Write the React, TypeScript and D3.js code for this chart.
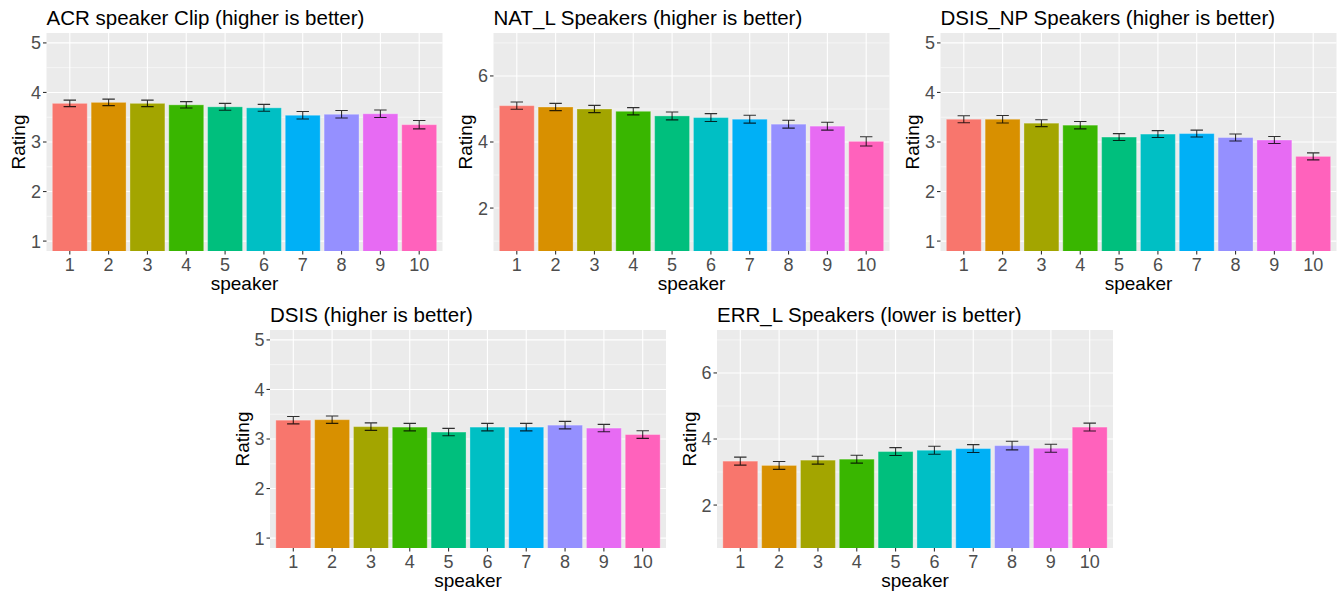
import * as d3 from "d3";
import { useEffect, useRef } from "react";

const speakers = ["1", "2", "3", "4", "5", "6", "7", "8", "9", "10"];
const speakerColors = [
  "#F8766D", "#D89000", "#A3A500", "#39B600", "#00BF7D",
  "#00BFC4", "#00B0F6", "#9590FF", "#E76BF3", "#FF62BC",
];

const acrMeans = [3.78, 3.80, 3.78, 3.75, 3.71, 3.69, 3.54, 3.56, 3.57, 3.35];
const acrErrors = [0.065, 0.065, 0.065, 0.065, 0.07, 0.07, 0.075, 0.075, 0.075, 0.085];

const natMeans = [5.10, 5.06, 5.0, 4.93, 4.79, 4.74, 4.69, 4.54, 4.48, 4.02];
const natErrors = [0.11, 0.11, 0.11, 0.11, 0.12, 0.12, 0.12, 0.12, 0.12, 0.14];

const dsisNpMeans = [3.46, 3.46, 3.38, 3.34, 3.10, 3.16, 3.17, 3.09, 3.04, 2.71];
const dsisNpErrors = [0.07, 0.075, 0.07, 0.075, 0.07, 0.07, 0.07, 0.07, 0.07, 0.07];

const dsisMeans = [3.38, 3.39, 3.25, 3.24, 3.14, 3.24, 3.24, 3.28, 3.22, 3.09];
const dsisErrors = [0.075, 0.075, 0.075, 0.075, 0.075, 0.075, 0.075, 0.075, 0.075, 0.078];

const errMeans = [3.33, 3.20, 3.36, 3.39, 3.62, 3.66, 3.71, 3.80, 3.72, 4.36];
const errErrors = [0.12, 0.12, 0.12, 0.12, 0.12, 0.12, 0.12, 0.13, 0.12, 0.12];

const fiveTicks = [1, 2, 3, 4, 5];
const sevenTicks = [2, 4, 6];

const panels = [
  { title: "ACR speaker Clip (higher is better)", means: acrMeans, errors: acrErrors, ylim: [1, 5], ticks: fiveTicks, col: 0, row: 0 },
  { title: "NAT_L Speakers (higher is better)", means: natMeans, errors: natErrors, ylim: [1, 7], ticks: sevenTicks, col: 1, row: 0 },
  { title: "DSIS_NP Speakers (higher is better)", means: dsisNpMeans, errors: dsisNpErrors, ylim: [1, 5], ticks: fiveTicks, col: 2, row: 0 },
  { title: "DSIS (higher is better)", means: dsisMeans, errors: dsisErrors, ylim: [1, 5], ticks: fiveTicks, col: 0.5, row: 1 },
  { title: "ERR_L Speakers (lower is better)", means: errMeans, errors: errErrors, ylim: [1, 7], ticks: sevenTicks, col: 1.5, row: 1 },
];

const WIDTH = 1342;
const HEIGHT = 594;
const PANEL_W = 447;
const PANEL_H = 297;
const MARGIN = { top: 33, left: 46.5 };
const FONT = "'Liberation Sans', Arial, sans-serif";

export default function App() {
  const svgRef = useRef<SVGSVGElement>(null);

  useEffect(() => {
    const svg = d3.select(svgRef.current);
    svg.selectAll("*").remove();
    svg.append("rect").attr("width", WIDTH).attr("height", HEIGHT).attr("fill", "#fff");

    const pw = 396;
    const ph = 218;

    panels.forEach((p, pi) => {
      const g = svg
        .append("g")
        .attr("transform", `translate(${p.col * PANEL_W + MARGIN.left},${p.row * PANEL_H + MARGIN.top})`);

      const pad = (p.ylim[1] - p.ylim[0]) * 0.05;
      const y = d3.scaleLinear().domain([p.ylim[0] - pad, p.ylim[1] + pad]).range([ph, 0]);
      const x = d3.scaleLinear().domain([0.4, speakers.length + 0.6]).range([0, pw]);

      g.append("rect").attr("width", pw).attr("height", ph).attr("fill", "#EBEBEB");

      const step = p.ticks[1] - p.ticks[0];
      const minor = d3
        .range(p.ticks[0] - step / 2, p.ylim[1] + pad + 0.001, step)
        .filter((v) => v >= y.domain()[0] && v <= y.domain()[1]);

      g.selectAll(".minor")
        .data(minor)
        .join("line")
        .attr("x1", 0)
        .attr("x2", pw)
        .attr("y1", (d) => y(d))
        .attr("y2", (d) => y(d))
        .attr("stroke", "#fff")
        .attr("stroke-width", 0.55);

      g.selectAll(".major")
        .data(p.ticks)
        .join("line")
        .attr("x1", 0)
        .attr("x2", pw)
        .attr("y1", (d) => y(d))
        .attr("y2", (d) => y(d))
        .attr("stroke", "#fff")
        .attr("stroke-width", 1.1);

      g.selectAll(".vgrid")
        .data(speakers)
        .join("line")
        .attr("x1", (d, i) => x(i + 1))
        .attr("x2", (d, i) => x(i + 1))
        .attr("y1", 0)
        .attr("y2", ph)
        .attr("stroke", "#fff")
        .attr("stroke-width", 1.1);

      const clipId = `clip-${pi}`;
      g.append("clipPath").attr("id", clipId).append("rect").attr("width", pw).attr("height", ph);
      const plot = g.append("g").attr("clip-path", `url(#${clipId})`);

      const bw = x(1.45) - x(0.55);
      plot
        .selectAll(".bar")
        .data(p.means)
        .join("rect")
        .attr("x", (d, i) => x(i + 1) - bw / 2)
        .attr("y", (d) => y(d))
        .attr("width", bw)
        .attr("height", (d) => y(0) - y(d))
        .attr("fill", (d, i) => speakerColors[i])
        .attr("stroke", "#fff")
        .attr("stroke-opacity", 0.3)
        .attr("stroke-width", 1);

      const cap = (x(1.16) - x(0.84)) / 2;
      const eb = plot
        .selectAll(".err")
        .data(p.means)
        .join("g")
        .attr("stroke", "#000")
        .attr("stroke-opacity", 0.8)
        .attr("stroke-width", 1.1)
        .attr("fill", "none");
      eb.append("path").attr("d", (d, i) => {
        const cx = x(i + 1);
        const top = y(d + p.errors[i]);
        const bot = y(d - p.errors[i]);
        return `M${cx - cap},${top}H${cx + cap}M${cx},${top}V${bot}M${cx - cap},${bot}H${cx + cap}`;
      });

      // axes
      const yAxis = g.append("g");
      yAxis
        .selectAll("line")
        .data(p.ticks)
        .join("line")
        .attr("x1", -3.5)
        .attr("x2", 0)
        .attr("y1", (d) => y(d))
        .attr("y2", (d) => y(d))
        .attr("stroke", "#333")
        .attr("stroke-width", 1.1);
      yAxis
        .selectAll("text")
        .data(p.ticks)
        .join("text")
        .attr("x", -5.5)
        .attr("y", (d) => y(d))
        .attr("dy", "0.36em")
        .attr("text-anchor", "end")
        .attr("fill", "#4D4D4D")
        .style("font-family", FONT)
        .style("font-size", "18px")
        .text((d) => d);

      const xAxis = g.append("g");
      xAxis
        .selectAll("line")
        .data(speakers)
        .join("line")
        .attr("x1", (d, i) => x(i + 1))
        .attr("x2", (d, i) => x(i + 1))
        .attr("y1", ph)
        .attr("y2", ph + 3.5)
        .attr("stroke", "#333")
        .attr("stroke-width", 1.1);
      xAxis
        .selectAll("text")
        .data(speakers)
        .join("text")
        .attr("x", (d, i) => x(i + 1))
        .attr("y", ph + 20)
        .attr("text-anchor", "middle")
        .attr("fill", "#4D4D4D")
        .style("font-family", FONT)
        .style("font-size", "18px")
        .text((d) => d);

      g.append("text")
        .attr("x", pw / 2)
        .attr("y", ph + 38.5)
        .attr("text-anchor", "middle")
        .style("font-family", FONT)
        .style("font-size", "19px")
        .text("speaker");

      g.append("text")
        .attr("transform", `translate(${-21.5},${ph / 2}) rotate(-90)`)
        .attr("text-anchor", "middle")
        .style("font-family", FONT)
        .style("font-size", "19px")
        .text("Rating");

      g.append("text")
        .attr("x", 0)
        .attr("y", -8.5)
        .style("font-family", FONT)
        .style("font-size", "20.5px")
        .text(p.title);
    });
  }, []);

  return (
    <div style={{ position: "absolute", left: 0, top: 0 }}>
      <svg ref={svgRef} width={WIDTH} height={HEIGHT} style={{ display: "block" }}></svg>
    </div>
  );
}
